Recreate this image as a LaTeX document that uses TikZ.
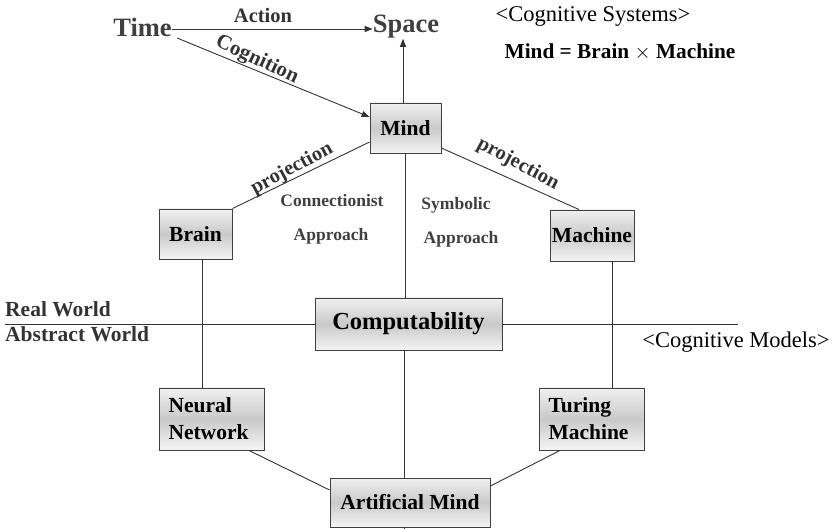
\documentclass[tikz,border=0pt]{standalone}
\usepackage{fontspec}
\setmainfont{Liberation Serif}
\usetikzlibrary{arrows.meta}
\begin{document}
\begin{tikzpicture}[x=1pt,y=-1pt,
  every node/.style={inner sep=0pt},
  conceptbox/.style={draw=black!75, line width=0.9pt,
    top color=gray!12, bottom color=gray!8, middle color=gray!42,
    font=\fontsize{21.5}{27}\selectfont\bfseries},
  link/.style={draw=black!80, line width=0.9pt},
  arrowlink/.style={link, -{Triangle[length=8pt,width=6pt]}},
  biglabel/.style={font=\fontsize{26.5}{28}\selectfont\bfseries, text=black!75},
  edgelabel/.style={font=\fontsize{20.5}{22}\selectfont\bfseries, text=black!80},
  notelabel/.style={font=\fontsize{17.5}{20}\selectfont\bfseries, text=black!75},
  heading/.style={font=\fontsize{22.5}{24}\selectfont}
]
\useasboundingbox (0,0) rectangle (836,529);

% top row: time, space and the cognitive systems note
\node[biglabel] (time) at (142.5,27) {Time};
\node[biglabel] (space) at (406,27) {Space};
\node[edgelabel] (action) at (263,15) {Action};
\node[heading] (cogsys) at (593,16) {<Cognitive Systems>};
\node[font=\fontsize{21.3}{23}\selectfont\bfseries] (formula) at (620,52) {Mind = Brain $\times$ Machine};

% concept boxes
\node[conceptbox, minimum width=71pt, minimum height=50pt] (mind) at (405.5,128) {Mind};
\node[conceptbox, minimum width=73pt, minimum height=50pt] (brain) at (195.5,234) {Brain};
\node[conceptbox, minimum width=84pt, minimum height=51pt] (machine) at (592,235.5) {Machine};
\node[conceptbox, minimum width=187pt, minimum height=52pt,
      font=\fontsize{24.5}{26}\selectfont\bfseries] (comp) at (408.5,324) {Computability};
\node[conceptbox, minimum width=105pt, minimum height=62pt, align=left,
      text width=86pt] (nn) at (211.5,419) {Neural\\Network};
\node[conceptbox, minimum width=105pt, minimum height=62pt, align=left,
      text width=86pt] (tm) at (591.5,419) {Turing\\Machine};
\node[conceptbox, minimum width=160pt, minimum height=49pt] (am) at (410,502.5) {Artificial Mind};

% world divider, level with the middle of the computability box
\coordinate (divL) at (5,324);
\coordinate (divR) at (738,324);
\draw[link] (divL) -- (comp.west);
\draw[link] (comp.east) -- (divR);
\node[edgelabel, font=\fontsize{21.5}{22}\selectfont\bfseries, anchor=west] (real) at (5,309) {Real World};
\node[edgelabel, font=\fontsize{21.5}{22}\selectfont\bfseries, anchor=west] (abstract) at (5,334) {Abstract World};
\node[heading] (cogmod) at (736,342) {<Cognitive Models>};

% arrows between time, space and mind
\draw[arrowlink] (time.east |- 0,29) -- (space.west |- 0,29);
\coordinate (timeout) at (177,38);
\draw[arrowlink] (timeout) -- (mind.west |- 0,117);
\node[edgelabel, font=\fontsize{21}{22}\selectfont\bfseries, rotate=-25] (cognition) at (257,60) {Cognition};
\draw[arrowlink] (mind.north -| 403,0) -- (space.south -| 403,0);

% projections
\draw[link] (brain.north east) -- (mind.west |- 0,142);
\draw[link] (mind.east |- 0,148) -- (machine.north -| 579,0);
\node[edgelabel, rotate=28] (projL) at (292,169) {projection};
\node[edgelabel, rotate=-28] (projR) at (518,164) {projection};

% approach notes
\node[notelabel] (conn) at (332,201) {Connectionist};
\node[notelabel] (connap) at (331,236) {Approach};
\node[notelabel] (symb) at (456,205) {Symbolic};
\node[notelabel] (symbap) at (461,239) {Approach};

% vertical links
\draw[link] (mind.south -| 405,0) -- (comp.north -| 405,0);
\draw[link] (comp.south -| 404,0) -- (am.north -| 404,0);
\draw[link] (brain.south -| 202,0) -- (nn.north -| 202,0);
\draw[link] (machine.south -| 612,0) -- (tm.north -| 612,0);

% links into the artificial mind
\draw[link] (nn.south -| 249,0) -- (am.west |- 0,490);
\draw[link] (tm.south -| 560,0) -- (am.east |- 0,486);
\coordinate (amtail) at (404,529);
\draw[link] (am.south -| 404,0) -- (amtail);
\end{tikzpicture}
\end{document}
